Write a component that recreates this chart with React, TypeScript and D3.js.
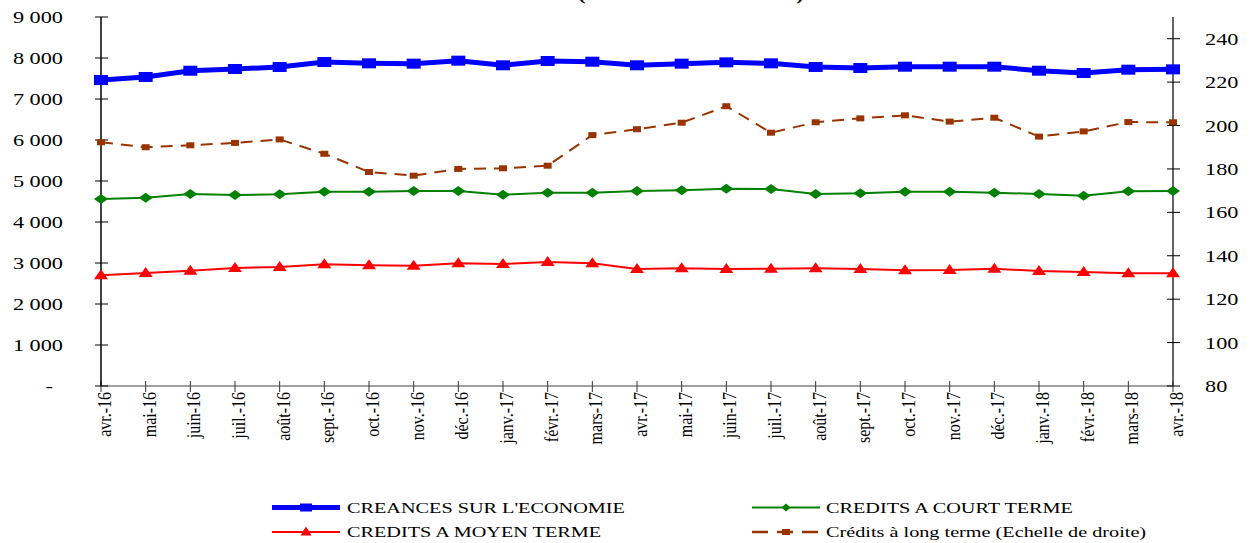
import { useEffect, useRef } from 'react';
import * as d3 from 'd3';

const months = [
  'avr.-16', 'mai-16', 'juin-16', 'juil.-16', 'août-16', 'sept.-16', 'oct.-16', 'nov.-16',
  'déc.-16', 'janv.-17', 'févr.-17', 'mars-17', 'avr.-17', 'mai-17', 'juin-17', 'juil.-17',
  'août-17', 'sept.-17', 'oct.-17', 'nov.-17', 'déc.-17', 'janv.-18', 'févr.-18', 'mars-18', 'avr.-18',
];

const creances = [7463, 7537, 7690, 7732, 7780, 7902, 7870, 7862, 7935, 7822, 7927, 7910, 7822, 7862, 7894, 7870, 7780, 7756, 7788, 7788, 7788, 7690, 7634, 7715, 7723];
const courtTerme = [4561, 4593, 4683, 4659, 4675, 4740, 4740, 4756, 4756, 4667, 4715, 4715, 4756, 4772, 4812, 4805, 4683, 4699, 4740, 4740, 4715, 4683, 4642, 4748, 4756];
const moyenTerme = [2700, 2756, 2812, 2878, 2902, 2967, 2943, 2935, 2992, 2976, 3024, 2992, 2854, 2870, 2854, 2862, 2870, 2854, 2821, 2829, 2862, 2805, 2780, 2748, 2748];
const longTerme = [192.3, 190.0, 190.9, 192.0, 193.6, 187.0, 178.6, 176.9, 180.0, 180.3, 181.5, 195.6, 198.3, 201.3, 208.9, 196.7, 201.5, 203.3, 204.7, 201.8, 203.6, 194.9, 197.3, 201.6, 201.5];

const leftTicks = [0, 1000, 2000, 3000, 4000, 5000, 6000, 7000, 8000, 9000];
const rightTicks = [80, 100, 120, 140, 160, 180, 200, 220, 240];

const title = '(en milliards de FCFA)';
const legendLabels = [
  'CREANCES SUR L\'ECONOMIE',
  'CREDITS A COURT TERME',
  'CREDITS A MOYEN TERME',
  'Crédits à long terme (Echelle de droite)',
];

const W = 1253;
const H = 543;
const FONT = '"Liberation Serif", "Times New Roman", serif';
const SX = 1.35; // text in the picture is stretched sideways

export default function App() {
  const svgRef = useRef<SVGSVGElement>(null);

  useEffect(() => {
    if (!svgRef.current) return;
    const svg = d3.select(svgRef.current);
    svg.selectAll('*').remove();

    const left = 101, right = 1173, top = 17, bottom = 386;

    const x = d3.scalePoint<string>().domain(months).range([left, right]);
    const yL = d3.scaleLinear().domain([0, 9000]).range([bottom, top]);
    const yR = d3.scaleLinear().domain([80, 250]).range([bottom, top]);

    // title, almost entirely cut off at the top edge
    svg.append('text')
      .attr('transform', `translate(691,0) scale(${SX},1)`)
      .attr('text-anchor', 'middle')
      .style('font-family', FONT)
      .style('font-size', '17px')
      .style('font-weight', 'bold')
      .text(title);

    // x axis
    svg.append('line')
      .attr('x1', left).attr('x2', right)
      .attr('y1', bottom).attr('y2', bottom)
      .attr('stroke', '#808080').attr('stroke-width', 1.5);

    svg.selectAll('.xtick')
      .data(months)
      .enter()
      .append('line')
      .attr('x1', d => x(d)!).attr('x2', d => x(d)!)
      .attr('y1', bottom - 5).attr('y2', bottom + 6)
      .attr('stroke', '#333').attr('stroke-width', 1);

    svg.selectAll('.xlabel')
      .data(months)
      .enter()
      .append('text')
      .attr('transform', d => `translate(${x(d)! + 10},392) rotate(-90) scale(1,1.2)`)
      .attr('text-anchor', 'end')
      .style('font-family', FONT)
      .style('font-size', '16px')
      .style('fill', '#000')
      .text(d => d);

    // left axis
    svg.append('line')
      .attr('x1', left).attr('x2', left)
      .attr('y1', top).attr('y2', bottom)
      .attr('stroke', '#000').attr('stroke-width', 1.5);

    svg.selectAll('.ltick')
      .data(leftTicks)
      .enter()
      .append('line')
      .attr('x1', left - 6).attr('x2', left + 7)
      .attr('y1', d => yL(d)).attr('y2', d => yL(d))
      .attr('stroke', '#000').attr('stroke-width', 1);

    const fmt = (v: number) => (v === 0 ? '-' : d3.format(',')(v).replace(',', ' '));
    svg.selectAll('.llabel')
      .data(leftTicks)
      .enter()
      .append('text')
      .attr('transform', d => `translate(${d === 0 ? 53 : 63},${yL(d) + 6}) scale(${SX},1)`)
      .attr('text-anchor', 'end')
      .style('font-family', FONT)
      .style('font-size', '16.5px')
      .text(d => fmt(d));

    // right axis
    svg.append('line')
      .attr('x1', right).attr('x2', right)
      .attr('y1', top).attr('y2', bottom)
      .attr('stroke', '#333').attr('stroke-width', 1.5);

    svg.selectAll('.rtick')
      .data(rightTicks)
      .enter()
      .append('line')
      .attr('x1', right - 6).attr('x2', right + 7)
      .attr('y1', d => yR(d)).attr('y2', d => yR(d))
      .attr('stroke', '#000').attr('stroke-width', 1);

    svg.selectAll('.rlabel')
      .data(rightTicks)
      .enter()
      .append('text')
      .attr('transform', d => `translate(1205,${yR(d) + 6}) scale(${SX},1)`)
      .style('font-family', FONT)
      .style('font-size', '16.5px')
      .text(d => d);

    const lineL = d3.line<number>().x((_, i) => x(months[i])!).y(d => yL(d));
    const lineR = d3.line<number>().x((_, i) => x(months[i])!).y(d => yR(d));

    const diamond = (w: number, h: number) => `M0,${-h / 2}L${w / 2},0L0,${h / 2}L${-w / 2},0Z`;
    const triangle = (w: number, h: number) => `M0,${-h * 0.6}L${w / 2},${h * 0.4}L${-w / 2},${h * 0.4}Z`;

    // long terme (right scale)
    svg.append('path')
      .datum(longTerme)
      .attr('d', lineR)
      .attr('fill', 'none')
      .attr('stroke', '#993300')
      .attr('stroke-width', 2)
      .attr('stroke-dasharray', '12,8');
    svg.selectAll('.m-long')
      .data(longTerme)
      .enter()
      .append('rect')
      .attr('x', (_, i) => x(months[i])! - 4)
      .attr('y', d => yR(d) - 3)
      .attr('width', 8).attr('height', 6)
      .attr('fill', '#993300');

    // moyen terme
    svg.append('path')
      .datum(moyenTerme)
      .attr('d', lineL)
      .attr('fill', 'none')
      .attr('stroke', '#FF0000')
      .attr('stroke-width', 2);
    svg.selectAll('.m-moyen')
      .data(moyenTerme)
      .enter()
      .append('path')
      .attr('transform', (d, i) => `translate(${x(months[i])},${yL(d)})`)
      .attr('d', triangle(14, 10))
      .attr('fill', '#FF0000');

    // court terme
    svg.append('path')
      .datum(courtTerme)
      .attr('d', lineL)
      .attr('fill', 'none')
      .attr('stroke', '#008000')
      .attr('stroke-width', 2);
    svg.selectAll('.m-court')
      .data(courtTerme)
      .enter()
      .append('path')
      .attr('transform', (d, i) => `translate(${x(months[i])},${yL(d)})`)
      .attr('d', diamond(14, 10))
      .attr('fill', '#008000');

    // creances
    svg.append('path')
      .datum(creances)
      .attr('d', lineL)
      .attr('fill', 'none')
      .attr('stroke', '#0000FF')
      .attr('stroke-width', 5);
    svg.selectAll('.m-creances')
      .data(creances)
      .enter()
      .append('rect')
      .attr('x', (_, i) => x(months[i])! - 7)
      .attr('y', d => yL(d) - 5)
      .attr('width', 14).attr('height', 10)
      .attr('fill', '#0000FF');

    // legend
    const legendPos = [
      { lx: 272, ly: 507.5 },
      { lx: 752, ly: 507.5 },
      { lx: 272, ly: 532 },
      { lx: 752, ly: 532 },
    ];
    const colors = ['#0000FF', '#008000', '#FF0000', '#993300'];
    const widths = [5, 2, 2, 2.5];

    legendLabels.forEach((label, i) => {
      const { lx, ly } = legendPos[i];
      const g = svg.append('g').attr('transform', `translate(${lx},${ly})`);
      g.append('line')
        .attr('x1', 0).attr('x2', 68)
        .attr('y1', 0).attr('y2', 0)
        .attr('stroke', colors[i])
        .attr('stroke-width', widths[i])
        .attr('stroke-dasharray', i === 3 ? '16,9' : null);
      if (i === 0) {
        g.append('rect').attr('x', 28).attr('y', -4).attr('width', 12).attr('height', 8).attr('fill', colors[i]);
      } else if (i === 1) {
        g.append('path').attr('transform', 'translate(34,0)').attr('d', diamond(9, 8)).attr('fill', colors[i]);
      } else if (i === 2) {
        g.append('path').attr('transform', 'translate(34,0)').attr('d', triangle(11, 9)).attr('fill', colors[i]);
      } else {
        g.append('rect').attr('x', 30).attr('y', -3).attr('width', 8).attr('height', 6).attr('fill', colors[i]);
      }
      g.append('text')
        .attr('transform', `translate(${i % 2 === 0 ? 75 : 74},5) scale(${SX},1)`)
        .style('font-family', FONT)
        .style('font-size', '15px')
        .text(label);
    });
  }, []);

  return (
    <svg
      ref={svgRef}
      width={W}
      height={H}
      style={{ position: 'absolute', left: 0, top: 0, background: '#fff' }}
    />
  );
}
